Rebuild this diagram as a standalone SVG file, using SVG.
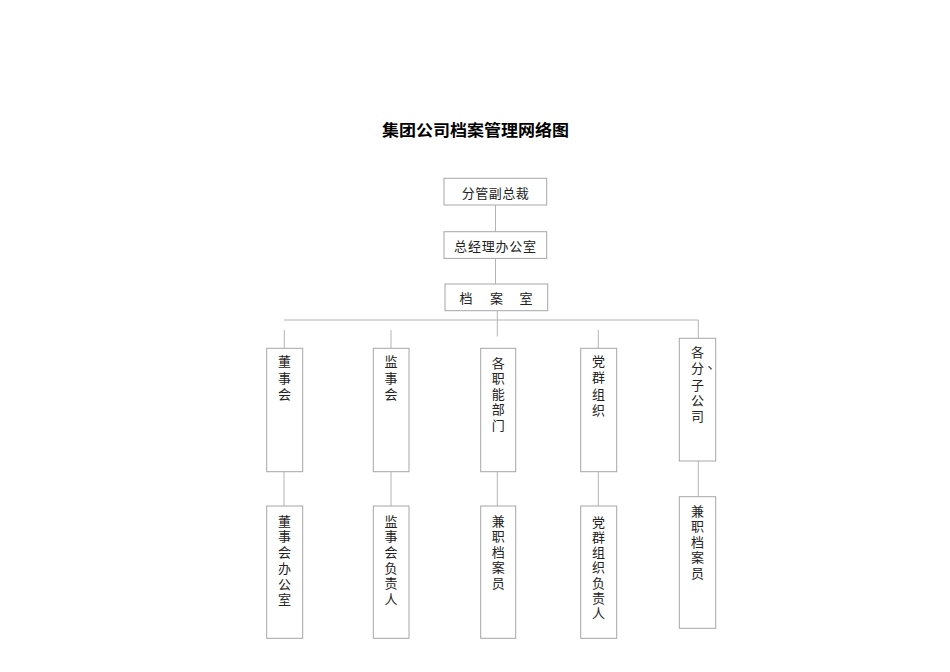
<svg xmlns="http://www.w3.org/2000/svg" width="950" height="672" viewBox="0 0 950 672">
<style>
.box{fill:#fff;stroke:#a6a6a6;stroke-width:1}
.ln{stroke:#b4b4b4;stroke-width:1;fill:none}
.t{font-family:'Noto Sans CJK SC',sans-serif;font-size:13px;fill:#222;text-anchor:middle;dominant-baseline:central}
.title{font-family:'Noto Sans CJK SC',sans-serif;font-size:16px;font-weight:bold;fill:#000;text-anchor:middle;dominant-baseline:central}
</style>
<rect width="950" height="672" fill="#fff"/>
<text class="title" x="475.5" y="129" textLength="187" lengthAdjust="spacingAndGlyphs">集团公司档案管理网络图</text>
<g id="connectors">
<line class="ln" x1="495.5" y1="205" x2="495.5" y2="231.7"/>
<line class="ln" x1="495.5" y1="258.3" x2="495.5" y2="284"/>
<line class="ln" x1="497.3" y1="310.7" x2="497.3" y2="336.5"/>
<line class="ln" x1="284" y1="320" x2="698.3" y2="320"/>
<line class="ln" x1="698.3" y1="320" x2="698.3" y2="338.3"/>
<line class="ln" x1="284.3" y1="330" x2="284.3" y2="348.3"/>
<line class="ln" x1="391" y1="330" x2="391" y2="348.3"/>
<line class="ln" x1="598.3" y1="330" x2="598.3" y2="348.3"/>
<line class="ln" x1="284" y1="471.7" x2="284" y2="506"/>
<line class="ln" x1="391" y1="471.7" x2="391" y2="506"/>
<line class="ln" x1="497.3" y1="471.7" x2="497.3" y2="506"/>
<line class="ln" x1="598.3" y1="471.7" x2="598.3" y2="506"/>
<line class="ln" x1="698.3" y1="461" x2="698.3" y2="496.7"/>
</g>
<g id="n1"><rect class="box" x="444" y="178.3" width="102.7" height="26.7"/><text class="t" x="495.5" y="192" letter-spacing="0.5">分管副总裁</text></g>
<g id="n2"><rect class="box" x="444" y="231.7" width="102.7" height="26.7"/><text class="t" x="495.5" y="245" letter-spacing="0.8">总经理办公室</text></g>
<g id="n3"><rect class="box" x="445" y="284" width="102.7" height="26.7"/><text class="t" y="297"><tspan x="466">档</tspan><tspan x="496.5">案</tspan><tspan x="526">室</tspan></text></g>
<g id="c1"><rect class="box" x="266.7" y="348.3" width="36" height="123.4"/><text class="t"><tspan x="284.5" y="360">董</tspan><tspan x="284.5" y="376.5">事</tspan><tspan x="284.5" y="393">会</tspan></text></g>
<g id="c2"><rect class="box" x="373.3" y="348.3" width="35.7" height="123.4"/><text class="t"><tspan x="391" y="360">监</tspan><tspan x="391" y="376.5">事</tspan><tspan x="391" y="393">会</tspan></text></g>
<g id="c3"><rect class="box" x="480.7" y="348.3" width="35" height="123.4"/><text class="t"><tspan x="498.2" y="361.5">各</tspan><tspan x="498.2" y="377">职</tspan><tspan x="498.2" y="392.5">能</tspan><tspan x="498.2" y="408">部</tspan><tspan x="498.2" y="423.5">门</tspan></text></g>
<g id="c4"><rect class="box" x="580.7" y="348.3" width="36" height="123.4"/><text class="t"><tspan x="598.5" y="360">党</tspan><tspan x="598.5" y="376">群</tspan><tspan x="598.5" y="392.5">组</tspan><tspan x="598.5" y="408.5">织</tspan></text></g>
<g id="c5"><rect class="box" x="679.3" y="338.3" width="36.4" height="122.7"/><text class="t"><tspan x="697.5" y="351">各</tspan><tspan x="697.5" y="367">分</tspan><tspan x="714" y="362">、</tspan><tspan x="697.5" y="383.5">子</tspan><tspan x="697.5" y="399">公</tspan><tspan x="697.5" y="414.5">司</tspan></text></g>
<g id="b1"><rect class="box" x="266.7" y="506" width="36" height="132.3"/><text class="t"><tspan x="284.5" y="519.5">董</tspan><tspan x="284.5" y="535.2">事</tspan><tspan x="284.5" y="551">会</tspan><tspan x="284.5" y="566.7">办</tspan><tspan x="284.5" y="582.5">公</tspan><tspan x="284.5" y="598.2">室</tspan></text></g>
<g id="b2"><rect class="box" x="373.3" y="506" width="35.7" height="132.3"/><text class="t"><tspan x="391" y="519.5">监</tspan><tspan x="391" y="535.2">事</tspan><tspan x="391" y="551">会</tspan><tspan x="391" y="566.7">负</tspan><tspan x="391" y="582.4">责</tspan><tspan x="391" y="598">人</tspan></text></g>
<g id="b3"><rect class="box" x="480.7" y="506" width="35" height="132.3"/><text class="t"><tspan x="498.2" y="519.5">兼</tspan><tspan x="498.2" y="535">职</tspan><tspan x="498.2" y="550.6">档</tspan><tspan x="498.2" y="566.2">案</tspan><tspan x="498.2" y="581.8">员</tspan></text></g>
<g id="b4"><rect class="box" x="580.7" y="506" width="36" height="132.3"/><text class="t"><tspan x="598.5" y="520.5">党</tspan><tspan x="598.5" y="535.8">群</tspan><tspan x="598.5" y="551">组</tspan><tspan x="598.5" y="566.3">织</tspan><tspan x="598.5" y="581.5">负</tspan><tspan x="598.5" y="596.8">责</tspan><tspan x="598.5" y="612">人</tspan></text></g>
<g id="b5"><rect class="box" x="679.3" y="496.7" width="36.4" height="131.6"/><text class="t"><tspan x="697.5" y="510">兼</tspan><tspan x="697.5" y="525.4">职</tspan><tspan x="697.5" y="540.8">档</tspan><tspan x="697.5" y="556.2">案</tspan><tspan x="697.5" y="571.6">员</tspan></text></g>
</svg>
